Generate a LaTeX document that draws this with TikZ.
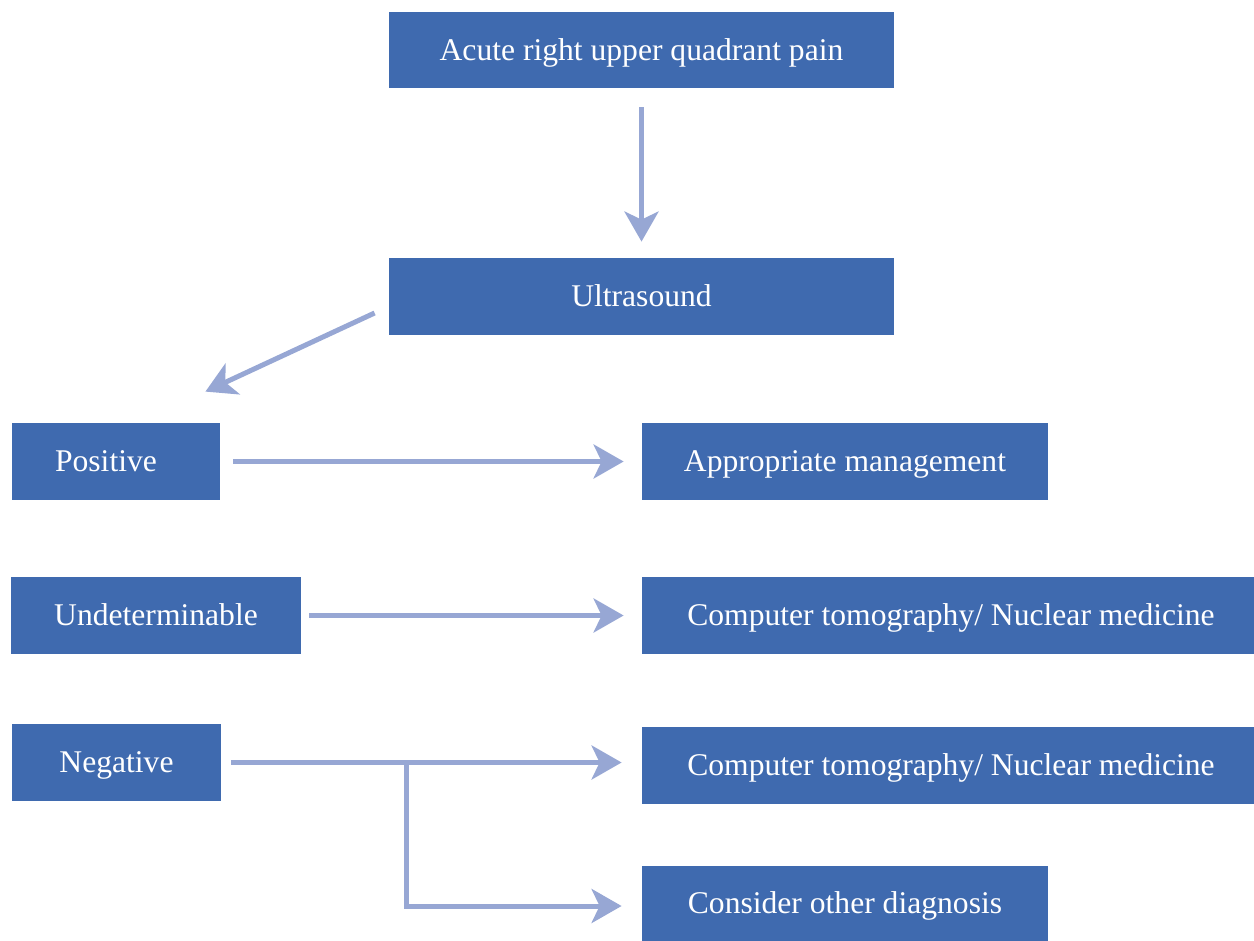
\documentclass[tikz,border=0pt]{standalone}
\usepackage{fontspec}
\setmainfont{Liberation Serif}
\usetikzlibrary{arrows.meta,calc}
\definecolor{boxblue}{RGB}{63,106,175}
\definecolor{arrblue}{RGB}{151,167,212}
\tikzset{
  box/.style={fill=boxblue, text=white, inner sep=0pt, text height=10.4pt, text depth=0pt,
    font=\fontsize{15.8pt}{19pt}\selectfont},
  arr/.style={draw=arrblue, line width=2.5pt,
    -{Stealth[length=15pt, width=17pt, inset=4pt, fill=arrblue]}},
}
\begin{document}
\begin{tikzpicture}[x=0.5pt, y=-0.5pt]
\useasboundingbox (0,0) rectangle (1254,941);
\node[box, minimum width=252.5pt, minimum height=38pt] (b1) at (641.5,50) {Acute right upper quadrant pain};
\node[box, minimum width=252.5pt, minimum height=38.5pt] (b2) at (641.5,296.5) {Ultrasound};
\node[box, minimum width=104pt, minimum height=38.5pt] (pos) at (116,461.5) {Positive\kern10pt};
\node[box, minimum width=203pt, minimum height=38.5pt] (app) at (845,461.5) {Appropriate management};
\node[box, minimum width=145pt, minimum height=38.5pt] (und) at (156,615.5) {Undeterminable};
\node[box, minimum width=306pt, minimum height=38.5pt] (ct1) at (948,615.5) {\kern3pt Computer tomography/ Nuclear medicine};
\node[box, minimum width=104.5pt, minimum height=38.5pt] (neg) at (116.5,762.5) {Negative};
\node[box, minimum width=306pt, minimum height=38.5pt] (ct2) at (948,765.5) {\kern3pt Computer tomography/ Nuclear medicine};
\node[box, minimum width=203pt, minimum height=37.5pt] (con) at (845,903.5) {Consider other diagnosis};

\draw[arr, shorten <=9.5pt, shorten >=8pt] (b1.south) -- (b2.north);
\draw[arr] ([xshift=-7pt,yshift=-8.25pt]b2.west) -- ([xshift=-7.5pt,yshift=15.5pt]pos.north east);
\draw[arr, shorten <=6.5pt, shorten >=9pt] (pos.east) -- (app.west);
\draw[arr, shorten <=4pt, shorten >=9pt] (und.east) -- (ct1.west);
\draw[arr, shorten <=5pt, shorten >=10pt] (neg.east) -- (neg.east -| ct2.west);
\coordinate (split) at ($(neg.east)+(185,0)$);
\draw[arr, shorten >=10pt] (split) |- ([yshift=-1.25pt]con.west);
\end{tikzpicture}
\end{document}
